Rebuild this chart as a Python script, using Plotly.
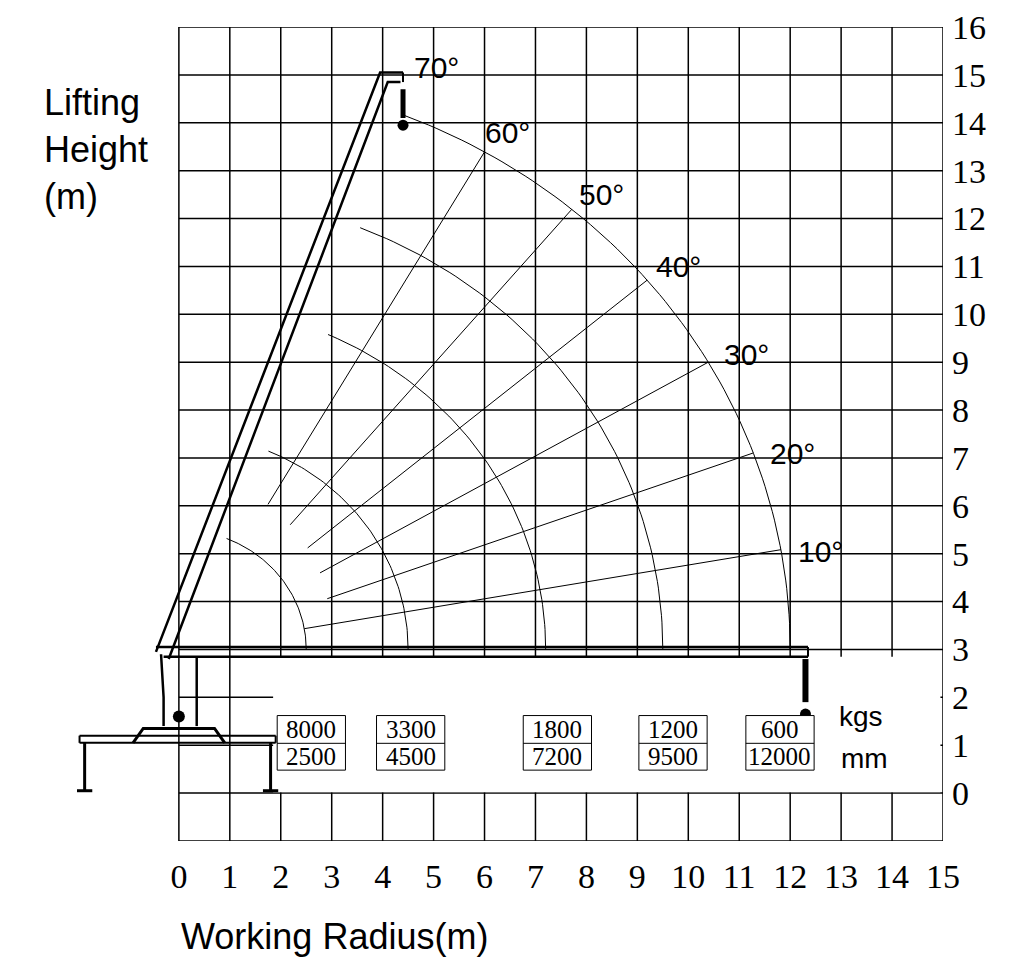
import numpy as np
import plotly.graph_objects as go

radii_mm = [2500, 4500, 7200, 9500, 12000]
loads_kg = [8000, 3300, 1800, 1200, 600]
box_x = [2.6, 4.55, 7.43, 9.7, 11.8]
arc_end_deg = [68, 67, 66, 68, 68.5]
ray_angles = [10, 20, 30, 40, 50, 60]
ray_start_r = [2.5, 3.1, 3.2, 3.3, 3.4, 3.5]
label_angles = [70, 60, 50, 40, 30, 20, 10]
label_pos = [(5.05, 15.15), (6.45, 13.8), (8.3, 12.5), (9.8, 11.0), (11.15, 9.15), (12.05, 7.1), (12.6, 5.05)]
x_ticks = list(range(0, 16))
y_ticks = list(range(0, 17))
cx, cy = 0.0, 3.0
K = "black"

fig = go.Figure()
def line(xs, ys, w=1.5):
    fig.add_trace(go.Scatter(x=xs, y=ys, mode="lines", line=dict(color=K, width=w),
                             hoverinfo="skip", showlegend=False))

for xv in x_ticks:
    fig.add_shape(type="line", x0=xv, x1=xv, y0=-1, y1=16, line=dict(color=K, width=1.5), layer="below")
for yv in range(-1, 17):
    fig.add_shape(type="line", x0=0, x1=15, y0=yv, y1=yv, line=dict(color=K, width=1.5), layer="below")
fig.add_shape(type="rect", x0=1.85, x1=14.95, y0=0.02, y1=2.85, fillcolor="white", line=dict(width=0), layer="below")

for r, e in zip(radii_mm, arc_end_deg):
    R = r / 1000
    t = np.radians(np.linspace(0, e, 80))
    line(cx + R*np.cos(t), cy + R*np.sin(t), 1)
Rout = radii_mm[-1] / 1000
for a, rs in zip(ray_angles, ray_start_r):
    t = np.radians(a)
    line([cx + rs*np.cos(t), cx + Rout*np.cos(t)], [cy + rs*np.sin(t), cy + Rout*np.sin(t)], 1)
for a, (lx, ly) in zip(label_angles, label_pos):
    fig.add_annotation(x=lx, y=ly, text=f"{a}°", showarrow=False, font=dict(size=30, color=K, family="Liberation Sans"))

line([-0.45, 3.95, 4.4], [2.95, 15.05, 15.05], 2.5)
line([-0.2, 4.1, 4.35], [2.8, 14.85, 14.85], 2.5)
line([4.4, 4.4], [15.05, 14.85], 2)
line([4.4, 4.4], [14.7, 14.1], 5)
fig.add_trace(go.Scatter(x=[4.4], y=[13.95], mode="markers", marker=dict(color=K, size=11), showlegend=False, hoverinfo="skip"))
line([-0.45, 12.35], [3.05, 3.05], 2.5)
line([-0.3, 12.35], [2.85, 2.85], 2.5)
line([12.35, 12.35], [3.05, 2.85], 2)
line([12.3, 12.3], [2.8, 1.9], 6)
fig.add_trace(go.Scatter(x=[12.3], y=[1.65], mode="markers", marker=dict(color=K, size=11), showlegend=False, hoverinfo="skip"))
line([-0.35, -0.3, -0.3], [2.9, 2.0, 1.4], 2.5)
line([0.35, 0.35], [2.85, 1.4], 2.5)
line([-1.95, 1.9], [1.2, 1.2], 2)
line([-1.95, 1.9], [1.05, 1.05], 2)
line([-1.95, -1.95], [1.2, 1.05], 2)
line([1.9, 1.9], [1.2, 1.05], 2)
line([-1.85, -1.85], [1.05, 0.05], 3)
line([1.8, 1.8], [1.05, 0.05], 3)
line([-2.0, -1.7], [0.05, 0.05], 3)
line([1.65, 1.95], [0.05, 0.05], 3)
line([-0.9, -0.7, 0.7, 0.9], [1.05, 1.35, 1.35, 1.05], 3)
fig.add_trace(go.Scatter(x=[0.0], y=[1.6], mode="markers", marker=dict(color=K, size=12), showlegend=False, hoverinfo="skip"))

for bx, kg, mm in zip(box_x, loads_kg, radii_mm):
    fig.add_shape(type="rect", x0=bx-0.67, x1=bx+0.67, y0=0.48, y1=1.62, fillcolor="white", line=dict(color=K, width=1), layer="above")
    fig.add_shape(type="line", x0=bx-0.67, x1=bx+0.67, y0=1.04, y1=1.04, line=dict(color=K, width=1), layer="above")
    fig.add_annotation(x=bx, y=1.33, text=str(kg), showarrow=False, font=dict(size=25, family="Liberation Serif", color=K))
    fig.add_annotation(x=bx, y=0.76, text=str(mm), showarrow=False, font=dict(size=25, family="Liberation Serif", color=K))
fig.add_annotation(x=13.4, y=1.6, text="kgs", showarrow=False, font=dict(size=28, family="Liberation Sans", color=K))
fig.add_annotation(x=13.45, y=0.73, text="mm", showarrow=False, font=dict(size=28, family="Liberation Sans", color=K))

fig.add_annotation(xref="paper", yref="paper", x=-0.04, y=0.935, xanchor="left", yanchor="top", align="left",
                   text="Lifting<br>Height<br>(m)", showarrow=False, font=dict(size=36, family="Liberation Sans", color=K))
fig.add_annotation(xref="paper", yref="paper", x=0.297, y=-0.117, xanchor="center", yanchor="middle",
                   text="Working Radius(m)", showarrow=False, font=dict(size=36, family="Liberation Sans", color=K))

fig.update_layout(width=1024, height=972, margin=dict(l=69, r=89, t=19, b=139, autoexpand=False),
                  plot_bgcolor="white", paper_bgcolor="white")
fig.update_xaxes(range=[-2, 15], tickvals=x_ticks, showgrid=False, zeroline=False, showline=False, ticks="",
                 automargin=False, ticklabelstandoff=12, tickfont=dict(size=34, family="Liberation Serif", color=K))
fig.update_yaxes(range=[-1, 16], tickvals=y_ticks, side="right", showgrid=False, zeroline=False, showline=False,
                 ticks="", automargin=False, ticklabelstandoff=8, tickfont=dict(size=34, family="Liberation Serif", color=K))
fig.write_html("out.html")
